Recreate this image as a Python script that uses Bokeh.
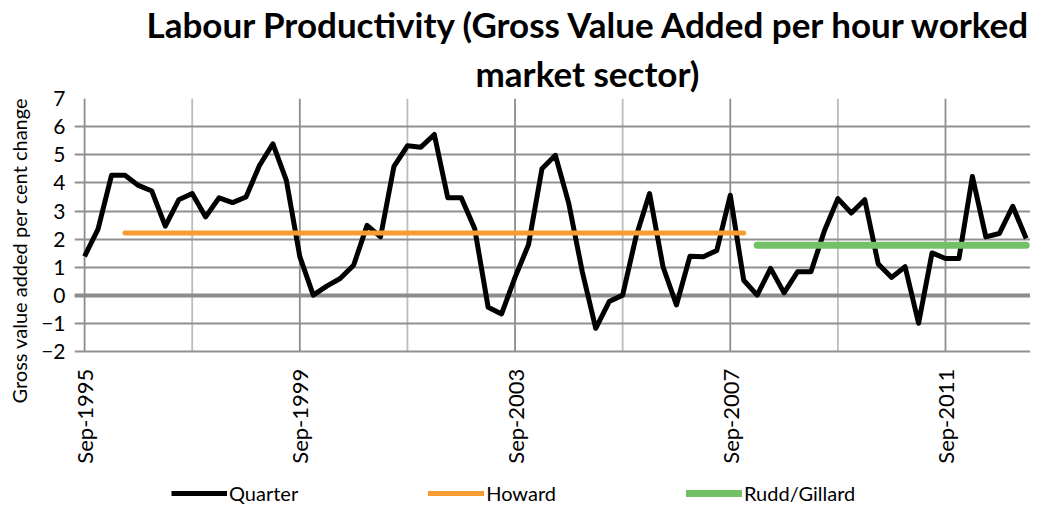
import numpy as np
from bokeh.plotting import figure
from bokeh.models import Range1d, FixedTicker, Title, Legend, LegendItem, Span
from bokeh.embed import file_html
from bokeh.resources import INLINE

# ---- data ----
productivity = [1.39, 2.36, 4.27, 4.27, 3.91, 3.71, 2.46, 3.40, 3.62, 2.79,
                3.47, 3.30, 3.50, 4.62, 5.39, 4.09, 1.38, 0.01, 0.33, 0.60,
                1.07, 2.49, 2.08, 4.59, 5.32, 5.27, 5.72, 3.47, 3.47, 2.38,
                -0.42, -0.66, 0.64, 1.80, 4.50, 4.98, 3.26, 0.84, -1.17, -0.22,
                0.01, 2.10, 3.62, 1.02, -0.34, 1.39, 1.37, 1.60, 3.56, 0.54,
                0.01, 0.96, 0.09, 0.84, 0.84, 2.30, 3.44, 2.93, 3.40, 1.12,
                0.64, 1.02, -0.99, 1.51, 1.31, 1.31, 4.23, 2.08, 2.20, 3.17,
                2.02]
howard_q = [3, 49]          # quarter index range of Howard average
howard_avg = [2.22, 2.22]
rudd_q = [50, 70]           # quarter index range of Rudd/Gillard average
rudd_avg = [1.78, 1.78]
tick_labels = ["Sep-1995", "Sep-1999", "Sep-2003", "Sep-2007", "Sep-2011"]
y_ticks = [-2, -1, 0, 1, 2, 3, 4, 5, 6, 7]
y_min, y_max = -2, 7

quarters = list(range(len(productivity)))
tick_pos = [16 * i for i in range(len(tick_labels))]
minor_pos = [t + 8 for t in tick_pos]

FONT = "Lato"
# the frame reaches the bottom of the figure; the category axis sits at y=-2
p = figure(width=1030, height=507, output_backend="svg", toolbar_location=None,
           x_range=Range1d(-0.75, 70.32), y_range=Range1d(-7.54, y_max),
           title=None, min_border_left=68, min_border_right=0,
           min_border_top=91, min_border_bottom=0)
p.outline_line_color = None
p.background_fill_color = "white"
p.border_fill_color = "white"

# grids
p.ygrid.ticker = FixedTicker(ticks=y_ticks)
p.ygrid.grid_line_color = "#909090"
p.ygrid.grid_line_width = 1.8
p.xgrid.visible = False
n_major = len(tick_pos)
p.segment(x0=tick_pos, y0=[y_min] * n_major, x1=tick_pos, y1=[y_max] * n_major,
          line_color="#8c8c8c", line_width=1.8, level="underlay")
p.segment(x0=minor_pos, y0=[y_min] * len(minor_pos), x1=minor_pos,
          y1=[y_max] * len(minor_pos), line_color="#bcbcbc", line_width=1.8,
          level="underlay")

zero = Span(location=0, dimension="width", line_color="#8c8c8c", line_width=4,
            level="underlay")
p.add_layout(zero)

# axes
p.xaxis.fixed_location = y_min
p.xaxis.ticker = FixedTicker(ticks=tick_pos)
p.xaxis.major_label_overrides = {pos: lab for pos, lab in zip(tick_pos, tick_labels)}
p.xaxis.major_label_orientation = np.pi / 2
p.xaxis.major_label_standoff = 17
p.xaxis.major_label_text_font = FONT
p.xaxis.major_label_text_font_size = "22px"
p.xaxis.major_label_text_color = "black"
p.xaxis.axis_line_color = None
p.xaxis.major_tick_line_color = None
p.xaxis.minor_tick_line_color = None
p.xaxis.major_tick_out = 0
p.xaxis.major_tick_in = 0
p.xaxis.minor_tick_out = 0

p.yaxis.ticker = FixedTicker(ticks=y_ticks)
p.yaxis.bounds = (y_min, y_max)
p.yaxis.major_label_standoff = 9
p.yaxis.major_label_text_font = FONT
p.yaxis.major_label_text_font_size = "21px"
p.yaxis.major_label_text_color = "black"
p.yaxis.axis_line_color = None
p.yaxis.major_tick_line_color = None
p.yaxis.minor_tick_line_color = None
p.yaxis.major_tick_out = 0
p.yaxis.minor_tick_out = 0

# series
r_q = p.line(quarters, productivity, line_color="black", line_width=5,
             line_join="round")
r_h = p.line(howard_q, howard_avg, line_color="#F79C33", line_width=5,
             line_cap="round")
r_r = p.line(rudd_q, rudd_avg, line_color="#72C167", line_width=7,
             line_cap="round")

legend = Legend(items=[LegendItem(label="Quarter", renderers=[r_q]),
                       LegendItem(label="Howard", renderers=[r_h]),
                       LegendItem(label="Rudd/Gillard", renderers=[r_r])],
                orientation="horizontal", location=(97, 2),
                glyph_width=56, glyph_height=20, label_standoff=2, spacing=130,
                label_text_font=FONT, label_text_font_size="20px",
                label_text_color="black", padding=0, margin=0,
                border_line_color=None, background_fill_alpha=0)
p.add_layout(legend)

# titles
t2 = Title(text="market sector)", align="left", offset=401,
           text_font=FONT, text_font_size="35px", text_font_style="bold",
           text_color="black", vertical_align="bottom", standoff=10)
t1 = Title(text="Labour Productivity (Gross Value Added per hour worked",
           align="left", offset=72, text_font=FONT, text_font_size="35px",
           text_font_style="bold", text_color="black", vertical_align="bottom",
           standoff=0)
p.add_layout(t2, "above")
p.add_layout(t1, "above")

ytitle = Title(text="Gross value added per cent change", align="left", offset=104,
               text_font=FONT, text_font_size="20px", text_font_style="normal",
               text_color="black", vertical_align="top", standoff=12)
p.add_layout(ytitle, "left")

open("out.html", "w").write(file_html(p, INLINE))
